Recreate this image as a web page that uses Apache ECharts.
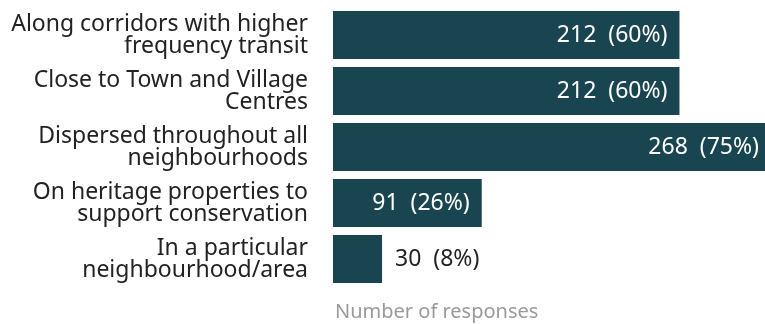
<!DOCTYPE html>
<html><head><meta charset="utf-8">
<script src="https://cdn.jsdelivr.net/npm/echarts@6/dist/echarts.min.js"></script>
<style>html,body{margin:0;padding:0;background:#fff}#c{width:765px;height:324px}</style>
</head><body><div id="c"></div>
<script>
const categories = [
  "Along corridors with higher\nfrequency transit",
  "Close to Town and Village\nCentres",
  "Dispersed throughout all\nneighbourhoods",
  "On heritage properties to\nsupport conservation",
  "In a particular\nneighbourhood/area"
];
const counts = [212, 212, 268, 91, 30];
const percents = [60, 60, 75, 26, 8];
const axisName = "Number of responses";

const FONT = "Noto Sans";
const barColor = "#18454f";
const data = counts.map((v, i) => {
  const inside = v >= 60;
  return {
    value: v,
    label: inside
      ? { position: "insideRight", color: "#ffffff", distance: 12 }
      : { position: "right", color: "#222222", distance: 13 }
  };
});

const chart = echarts.init(document.getElementById("c"), null, { renderer: "canvas" });
chart.setOption({
  animation: false,
  grid: { left: 333, top: 7, width: 438, height: 280, containLabel: false, outerBoundsMode: "none" },
  xAxis: {
    type: "value", min: 0, max: 268,
    axisLine: { show: false }, axisTick: { show: false },
    axisLabel: { show: false }, splitLine: { show: false },
    name: axisName, nameLocation: "start", nameGap: -2,
    nameTextStyle: { align: "left", verticalAlign: "top", padding: [15, 0, 0, 0],
      color: "#9a9a9a", fontSize: 20, fontFamily: FONT }
  },
  yAxis: {
    type: "category", inverse: true, data: categories,
    axisLine: { show: false }, axisTick: { show: false },
    axisLabel: { margin: 25, color: "#222222", fontSize: 23, lineHeight: 22,
      fontFamily: FONT, align: "right" }
  },
  series: [{
    type: "bar", data: data, barWidth: 48,
    itemStyle: { color: barColor },
    label: {
      show: true, fontSize: 23, fontFamily: FONT,
      formatter: p => p.value + "  (" + percents[p.dataIndex] + "%)"
    }
  }]
});
</script></body></html>
